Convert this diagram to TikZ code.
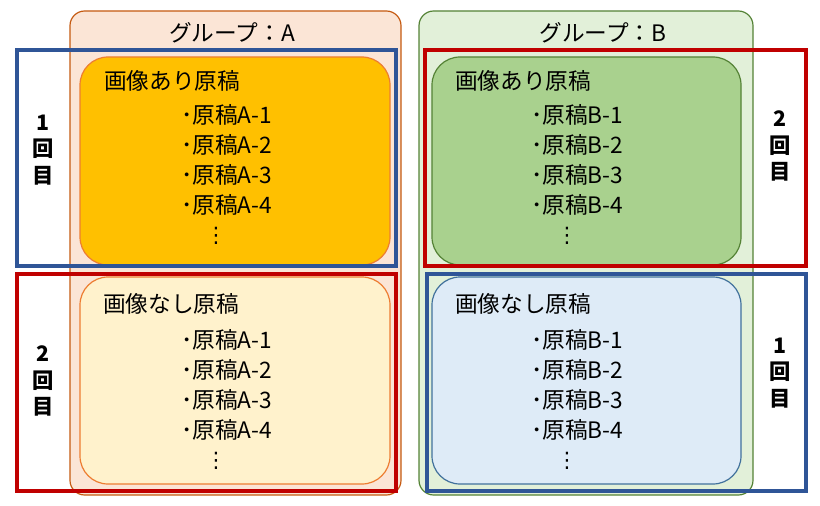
\documentclass[tikz,border=0pt]{standalone}
\usepackage{fontspec}
\setmainfont{Noto Sans CJK JP}
\newfontfamily\symfont{DejaVu Sans}
\usetikzlibrary{positioning}

\definecolor{peachA}{HTML}{FBE5D6}
\definecolor{rustA}{HTML}{C55A11}
\definecolor{mintB}{HTML}{E2F0D9}
\definecolor{leafB}{HTML}{548235}
\definecolor{goldA}{HTML}{FFC000}
\definecolor{orangeA}{HTML}{ED7D31}
\definecolor{creamA}{HTML}{FFF2CC}
\definecolor{greenB}{HTML}{A9D18E}
\definecolor{skyB}{HTML}{DEEBF7}
\definecolor{navyB}{HTML}{41719C}
\definecolor{frameblue}{HTML}{2F5597}
\definecolor{framered}{HTML}{C00000}

\begin{document}
\begin{tikzpicture}[x=0.75pt, y=-0.75pt,
  every node/.style={font=\fontsize{17}{20}\selectfont, inner sep=0pt},
  group/.style={line width=0.9pt, rounded corners=11pt},
  inbox/.style={line width=0.9pt, rounded corners=21pt},
  frame/.style={line width=3pt},
  vdots/.style={font=\symfont\fontsize{16}{20}\selectfont},
  kai/.style={font=\bfseries\fontsize{16}{20}\selectfont, align=center}]
  \useasboundingbox (0,0) rectangle (820,506);

  % groups
  \draw[group, fill=peachA, draw=rustA] (70,11) rectangle (401,495);
  \draw[group, fill=mintB, draw=leafB] (419,11) rectangle (753,495);
  \node (titleA) at (232,33) {グループ：A};
  \node (titleB) at (603,33) {グループ：B};

  % inner boxes
  \draw[inbox, fill=goldA, draw=orangeA] (80,57) rectangle (390,265);
  \draw[inbox, fill=creamA, draw=orangeA] (80,277) rectangle (390,484);
  \draw[inbox, fill=greenB, draw=leafB] (432,57) rectangle (741,265);
  \draw[inbox, fill=skyB, draw=navyB] (432,277) rectangle (741,484);

  \node[anchor=west] (withA) at (104,81) {画像あり原稿};
  \node[anchor=west] (noneA) at (103,304) {画像なし原稿};
  \node[anchor=west] (withB) at (455,81) {画像あり原稿};
  \node[anchor=west] (noneB) at (455,304) {画像なし原稿};

  \foreach \i in {1,...,4} {
    \node[anchor=west] (withA-\i) at (181,85+30*\i) {･原稿A-\i};
    \node[anchor=west] (noneA-\i) at (181,310+30*\i) {･原稿A-\i};
    \node[anchor=west] (withB-\i) at (531,85+30*\i) {･原稿B-\i};
    \node[anchor=west] (noneB-\i) at (531,310+30*\i) {･原稿B-\i};
  }
  \node[vdots] (dotsA1) at (216,236) {⋮};
  \node[vdots] (dotsA2) at (216,461) {⋮};
  \node[vdots] (dotsB1) at (567,236) {⋮};
  \node[vdots] (dotsB2) at (567,461) {⋮};

  % rounds
  \node[kai] (roundA1) at (43,150) {1\\回\\目};
  \node[kai] (roundA2) at (43,381) {2\\回\\目};
  \node[kai] (roundB2) at (780,146) {2\\回\\目};
  \node[kai] (roundB1) at (780,373) {1\\回\\目};

  \draw[frame, frameblue] (17,50) rectangle (396,266);
  \draw[frame, framered] (17,274) rectangle (396,491);
  \draw[frame, framered] (425,50) rectangle (806,266);
  \draw[frame, frameblue] (427,274) rectangle (806,491);
\end{tikzpicture}
\end{document}
